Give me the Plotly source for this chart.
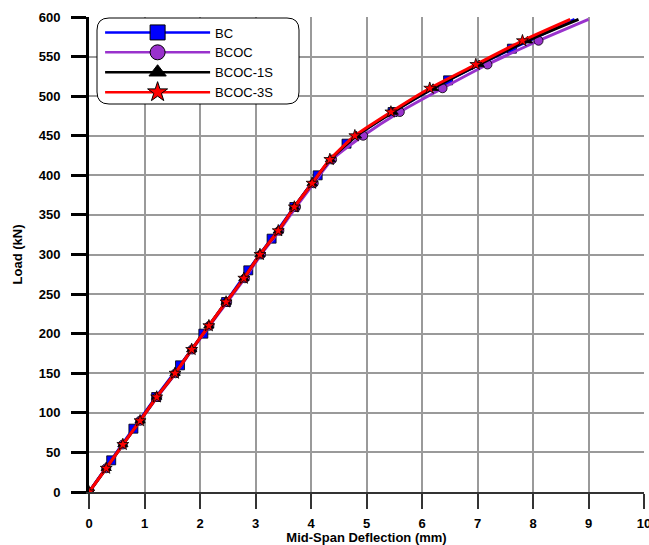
import plotly.graph_objects as go

# Loads (kN)
load30 = [0, 30, 60, 90, 120, 150, 180, 210, 240, 270, 300, 330, 360, 390, 420,
          450, 480, 510, 540, 570, 597]
load40 = [0, 40, 80, 120, 160, 200, 240, 280, 320, 360, 400, 440, 480, 520, 560, 597]

# Mid-span deflections (mm)
bc_x = [0, 0.40, 0.80, 1.21, 1.64, 2.06, 2.47, 2.87, 3.29, 3.70, 4.12, 4.64, 5.47,
        6.47, 7.62, 8.75]
bcoc_x = [0, 0.31, 0.61, 0.92, 1.23, 1.56, 1.86, 2.17, 2.49, 2.81, 3.10, 3.43, 3.73,
          4.05, 4.38, 4.94, 5.60, 6.37, 7.18, 8.10, 9.00]
bcoc1s_x = [0, 0.31, 0.61, 0.92, 1.22, 1.55, 1.85, 2.16, 2.47, 2.79, 3.08, 3.41, 3.70,
            4.02, 4.35, 4.82, 5.48, 6.20, 7.03, 7.90, 8.82]
bcoc3s_x = [0, 0.31, 0.61, 0.92, 1.22, 1.55, 1.85, 2.16, 2.47, 2.79, 3.08, 3.41, 3.70,
            4.02, 4.34, 4.79, 5.44, 6.14, 6.97, 7.81, 8.67]

x_ticks = list(range(0, 11))
y_ticks = list(range(0, 601, 50))

series = [
    ("BC", bc_x, load40, "#0000FF", "square", 9, 15),
    ("BCOC", bcoc_x, load30, "#9932CC", "circle", 9, 15),
    ("BCOC-1S", bcoc1s_x, load30, "#000000", "triangle-up", 9, 15),
    ("BCOC-3S", bcoc3s_x, load30, "#FF0000", "star", 9, 15),
]

fig = go.Figure()
for name, xs, ys, col, sym, ms, lms in series:
    # smooth curve through all points
    fig.add_trace(go.Scatter(
        x=xs, y=ys, name=name, mode="lines", showlegend=False, legendgroup=name,
        line=dict(color=col, width=3, shape="spline", smoothing=0.6),
        hoverinfo="skip",
    ))
    # markers at the recorded steps (last point is curve end only)
    fig.add_trace(go.Scatter(
        x=xs[:-1], y=ys[:-1], name=name, mode="markers", showlegend=False,
        legendgroup=name,
        marker=dict(symbol=sym, size=ms, color=col, line=dict(color="black", width=0.8)),
    ))
    # legend entry
    fig.add_trace(go.Scatter(
        x=[None], y=[None], name=name, mode="lines+markers", legendgroup=name,
        line=dict(color=col, width=2.5),
        marker=dict(symbol=sym, size=lms, color=col, line=dict(color="black", width=1)),
    ))

# rounded legend frame (paper coords)
x0p, x1p = 8 / 555, 210 / 555
y1p, y0p = 1 - 1 / 475, 1 - 87 / 475
rx, ry = 12 / 555, 12 / 475
path = (f"M{x0p + rx},{y1p} L{x1p - rx},{y1p} Q{x1p},{y1p} {x1p},{y1p - ry} "
        f"L{x1p},{y0p + ry} Q{x1p},{y0p} {x1p - rx},{y0p} L{x0p + rx},{y0p} "
        f"Q{x0p},{y0p} {x0p},{y0p + ry} L{x0p},{y1p - ry} Q{x0p},{y1p} {x0p + rx},{y1p} Z")
fig.add_shape(type="path", path=path, xref="paper", yref="paper",
              line=dict(color="black", width=1), fillcolor="white", layer="above")

fig.update_layout(
    width=649, height=545,
    margin=dict(l=89, r=5, t=17, b=53),
    paper_bgcolor="white", plot_bgcolor="white",
    font=dict(family="Liberation Sans, Arial", color="black"),
    showlegend=True,
    legend=dict(
        x=0.02, y=0.999, xanchor="left", yanchor="top",
        bgcolor="rgba(0,0,0,0)", borderwidth=0,
        font=dict(family="Liberation Sans, Arial", size=13, color="black"),
        itemsizing="trace", tracegroupgap=0, itemwidth=105,
    ),
    xaxis=dict(
        range=[0, 10], tickvals=x_ticks, ticktext=[str(v) for v in x_ticks],
        showgrid=True, gridcolor="#9a9a9a", gridwidth=1.5,
        zeroline=False, showline=True, linecolor="#333333", linewidth=2,
        ticks="outside", ticklen=15, tickwidth=2, tickcolor="#333333",
        tickfont=dict(family="Liberation Sans, Arial", size=13, color="black", weight="bold"),
        title=dict(text="<b>Mid-Span Deflection (mm)</b>", font=dict(size=13), standoff=9),
        ticklabelstandoff=3, ticklabeloverflow="allow", automargin=False,
    ),
    yaxis=dict(
        range=[0, 600], tickvals=y_ticks, ticktext=[str(v) for v in y_ticks],
        showgrid=True, gridcolor="#9a9a9a", gridwidth=1.5,
        zeroline=False, showline=True, linecolor="black", linewidth=3,
        ticks="outside", ticklen=15, tickwidth=2.5, tickcolor="black",
        tickfont=dict(family="Liberation Sans, Arial", size=13, color="black", weight="bold"),
        title=dict(text="<b>Load (kN)</b>", font=dict(size=13), standoff=14),
        ticklabelstandoff=8, automargin=False,
    ),
)

fig.write_html("out.html")
